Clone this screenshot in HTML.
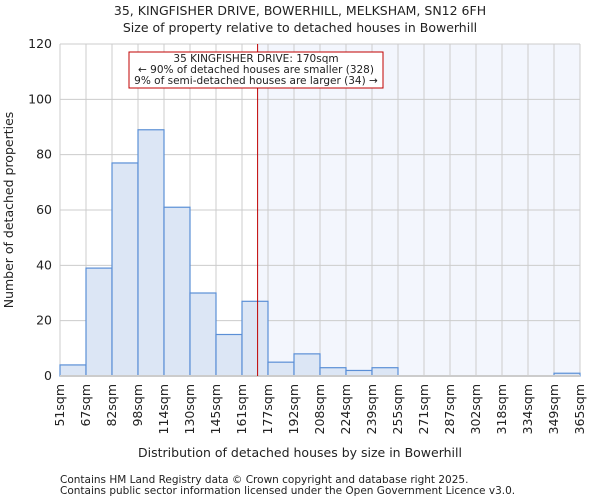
<!DOCTYPE html>
<html><head><meta charset="utf-8"><style>
body{margin:0;background:#fff;font-family:"DejaVu Sans","Liberation Sans",sans-serif}
svg text{font-family:"DejaVu Sans","Liberation Sans",sans-serif;fill:#222}
</style></head><body>
<svg id="chart" width="600" height="500" xmlns="http://www.w3.org/2000/svg">
<text x="300" y="15" font-size="12.5" text-anchor="middle">35, KINGFISHER DRIVE, BOWERHILL, MELKSHAM, SN12 6FH</text>
<text x="300" y="32" font-size="12.5" text-anchor="middle">Size of property relative to detached houses in Bowerhill</text>
<g id="plot"></g>
<text x="300" y="457" font-size="12.5" text-anchor="middle">Distribution of detached houses by size in Bowerhill</text>
<text transform="translate(13,210) rotate(-90)" font-size="12.5" text-anchor="middle">Number of detached properties</text>
<text x="60" y="483" font-size="10.5">Contains HM Land Registry data © Crown copyright and database right 2025.</text>
<text x="60" y="494" font-size="10.5">Contains public sector information licensed under the Open Government Licence v3.0.</text>
</svg>
<script>
const categories=["51sqm","67sqm","82sqm","98sqm","114sqm","130sqm","145sqm","161sqm","177sqm","192sqm","208sqm","224sqm","239sqm","255sqm","271sqm","287sqm","302sqm","318sqm","334sqm","349sqm","365sqm"];
const counts=[4,39,77,89,61,30,15,27,5,8,3,2,3,0,0,0,0,0,0,1];
const yTicks=[0,20,40,60,80,100,120];
const markerBin=7.6;
const NS="http://www.w3.org/2000/svg";
const g=document.getElementById('plot');
const X0=60,X1=580,Y0=376,Y1=44,nb=counts.length;
const bw=(X1-X0)/nb;
const xs=i=>X0+i*bw;
const ys=v=>Y0-(v/120)*(Y0-Y1);
function mk(t,a){const e=document.createElementNS(NS,t);for(const k in a)e.setAttribute(k,a[k]);g.appendChild(e);return e;}
const mx=xs(markerBin);
let e=mk('rect',{x:mx,y:Y1,width:X1-mx,height:Y0-Y1,fill:'#f3f6fd'});


yTicks.forEach(t=>{const l=mk('line',{x1:X0,x2:X1,y1:ys(t),y2:ys(t),stroke:'#ccc'});


const tx=mk('text',{x:X0-8,y:ys(t)+4,'font-size':'12.5','text-anchor':'end'});tx.textContent=t;

});
categories.forEach((c,i)=>{const l=mk('line',{x1:xs(i),x2:xs(i),y1:Y1,y2:Y0,stroke:'#ccc'});


const tx=mk('text',{transform:`translate(${xs(i)+4},${Y0+8}) rotate(-90)`,'font-size':'12.5','text-anchor':'end'});tx.textContent=c;

});
counts.forEach((v,i)=>{if(v<=0)return;const r=mk('rect',{x:xs(i),y:ys(v),width:bw,height:Y0-ys(v),fill:'#dce6f5',stroke:'#5b8fd6','stroke-width':1.2});

});
e=mk('line',{x1:X0,x2:X1,y1:Y0,y2:Y0,stroke:'#ccc','stroke-width':2});


e=mk('line',{x1:mx,x2:mx,y1:Y1,y2:Y0,stroke:'#c00000'});


e=mk('rect',{x:129,y:52,width:254,height:36,fill:'#fff',stroke:'#c00000'});


["35 KINGFISHER DRIVE: 170sqm","← 90% of detached houses are smaller (328)","9% of semi-detached houses are larger (34) →"].forEach((s,i)=>{const t=mk('text',{x:256,y:62+i*11,'font-size':'10.5','text-anchor':'middle'});t.textContent=s;

});
</script>
</body></html>
